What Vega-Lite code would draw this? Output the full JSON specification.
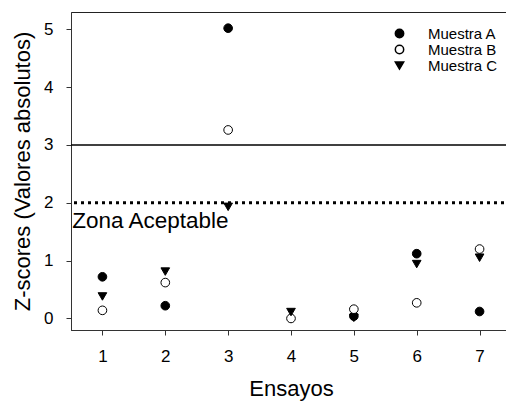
{
  "$schema": "https://vega.github.io/schema/vega-lite/v6.json",
  "autosize": "none",
  "width": 440,
  "height": 318,
  "padding": {"left": 71, "top": 12, "right": 0, "bottom": 71},
  "config": {
    "font": "Liberation Sans",
    "view": {"stroke": "#222", "strokeWidth": 1},
    "axis": {
      "domainColor": "#333", "tickColor": "#333", "grid": false,
      "labelFontSize": 17, "titleFontSize": 22, "labelColor": "black", "titleColor": "black",
      "titleFontWeight": "normal", "tickSize": 5, "labelPadding": 13, "format": "d"
    }
  },
  "datasets": {
    "pts": [
      {"ensayo": 1, "muestra": "Muestra A", "z": 0.72},
      {"ensayo": 1, "muestra": "Muestra B", "z": 0.14},
      {"ensayo": 1, "muestra": "Muestra C", "z": 0.38},
      {"ensayo": 2, "muestra": "Muestra A", "z": 0.22},
      {"ensayo": 2, "muestra": "Muestra B", "z": 0.62},
      {"ensayo": 2, "muestra": "Muestra C", "z": 0.81},
      {"ensayo": 3, "muestra": "Muestra A", "z": 5.02},
      {"ensayo": 3, "muestra": "Muestra B", "z": 3.26},
      {"ensayo": 3, "muestra": "Muestra C", "z": 1.93},
      {"ensayo": 4, "muestra": "Muestra B", "z": 0.0},
      {"ensayo": 4, "muestra": "Muestra C", "z": 0.11},
      {"ensayo": 5, "muestra": "Muestra A", "z": 0.04},
      {"ensayo": 5, "muestra": "Muestra B", "z": 0.16},
      {"ensayo": 5, "muestra": "Muestra C", "z": 0.01},
      {"ensayo": 6, "muestra": "Muestra A", "z": 1.12},
      {"ensayo": 6, "muestra": "Muestra B", "z": 0.27},
      {"ensayo": 6, "muestra": "Muestra C", "z": 0.94},
      {"ensayo": 7, "muestra": "Muestra A", "z": 0.12},
      {"ensayo": 7, "muestra": "Muestra B", "z": 1.2},
      {"ensayo": 7, "muestra": "Muestra C", "z": 1.05}
    ],
    "lines": [{"y": 3, "kind": "limit"}],
    "dots": [{"y": 2, "kind": "accept"}],
    "label": [{"x": 0.52, "y": 1.57, "text": "Zona Aceptable"}]
  },
  "layer": [
    {
      "data": {"name": "lines"},
      "mark": {"type": "rule", "color": "black", "strokeWidth": 1.5},
      "encoding": {"y": {"field": "y", "type": "quantitative", "scale": {"domain": [-0.2, 5.3]}}}
    },
    {
      "data": {"name": "dots"},
      "mark": {"type": "rule", "color": "black", "strokeWidth": 3, "strokeDash": [3, 4]},
      "encoding": {"y": {"field": "y", "type": "quantitative"}}
    },
    {
      "data": {"name": "label"},
      "mark": {"type": "text", "align": "left", "baseline": "alphabetic", "fontSize": 22.5, "font": "Liberation Sans", "color": "black"},
      "encoding": {
        "x": {"field": "x", "type": "quantitative"},
        "y": {"field": "y", "type": "quantitative"},
        "text": {"field": "text"}
      }
    },
    {
      "data": {"name": "pts"},
      "mark": {"type": "point", "stroke": "black", "strokeWidth": 1, "opacity": 1, "filled": true, "size": 75},
      "encoding": {
        "x": {"field": "ensayo", "type": "quantitative", "title": "Ensayos",
              "scale": {"domain": [0.5, 7.5], "nice": false, "zero": false},
              "axis": {"values": [1, 2, 3, 4, 5, 6, 7], "titlePadding": 14}},
        "y": {"field": "z", "type": "quantitative", "title": "Z-scores (Valores absolutos)",
              "scale": {"domain": [-0.2, 5.3], "nice": false, "zero": false},
              "axis": {"values": [0, 1, 2, 3, 4, 5], "titlePadding": 9}},
        "shape": {"field": "muestra", "type": "nominal", "title": null,
                  "scale": {"domain": ["Muestra A", "Muestra B", "Muestra C"], "range": ["circle", "circle", "triangle-down"]},
                  "legend": {"orient": "none", "legendX": 321, "legendY": 14, "labelFontSize": 15, "labelOffset": 21, "rowPadding": -1, "padding": 0, "symbolSize": 70, "labelColor": "black",
                             "encode": {"symbols": {"update": {"stroke": {"value": "black"}, "strokeWidth": {"value": 1}, "opacity": {"value": 1}}}}}},
        "fill": {"field": "muestra", "type": "nominal", "title": null,
                 "scale": {"domain": ["Muestra A", "Muestra B", "Muestra C"], "range": ["black", "white", "black"]}}
      }
    }
  ]
}
